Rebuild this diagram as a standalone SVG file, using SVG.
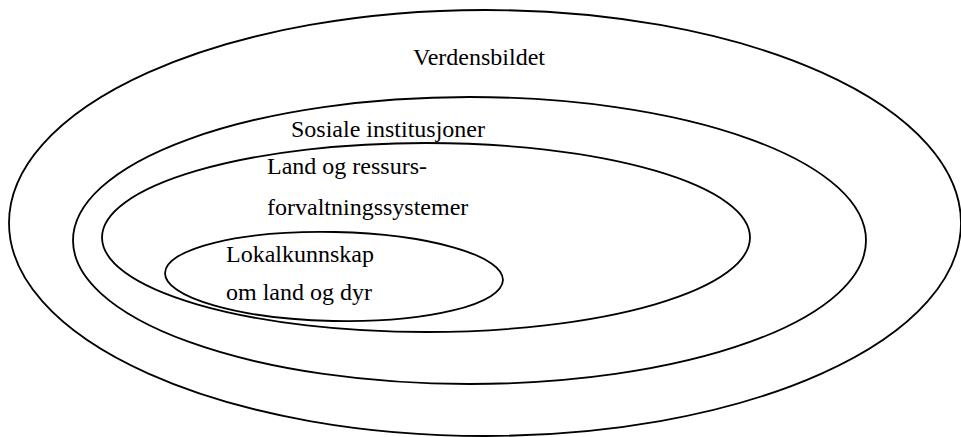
<svg xmlns="http://www.w3.org/2000/svg" width="961" height="437" viewBox="0 0 961 437">
<style>
.ring{fill:none;stroke:#000;stroke-width:1.8}
.lbl{font-family:"Liberation Serif","Times New Roman",serif;font-size:24px;fill:#000}
</style>
<rect width="961" height="437" fill="#fff"/>
<g id="verdensbildet">
<ellipse class="ring" cx="485" cy="223" rx="476" ry="213"/>
<text class="lbl" x="413" y="65">Verdensbildet</text>
</g>
<g id="sosiale-institusjoner">
<ellipse class="ring" cx="469.5" cy="240.5" rx="396.5" ry="143.5"/>
<text class="lbl" x="291" y="137">Sosiale institusjoner</text>
</g>
<g id="land-og-ressursforvaltning">
<ellipse class="ring" cx="426" cy="237.5" rx="324" ry="94.5"/>
<text class="lbl" x="267" y="174">Land og ressurs-</text>
<text class="lbl" x="267" y="215">forvaltningssystemer</text>
</g>
<g id="lokalkunnskap">
<ellipse class="ring" cx="334" cy="276.5" rx="169" ry="44.5" transform="rotate(1.2 334 276.5)"/>
<text class="lbl" x="226" y="262">Lokalkunnskap</text>
<text class="lbl" x="226" y="300">om land og dyr</text>
</g>
<g id="connectors"></g>
</svg>
